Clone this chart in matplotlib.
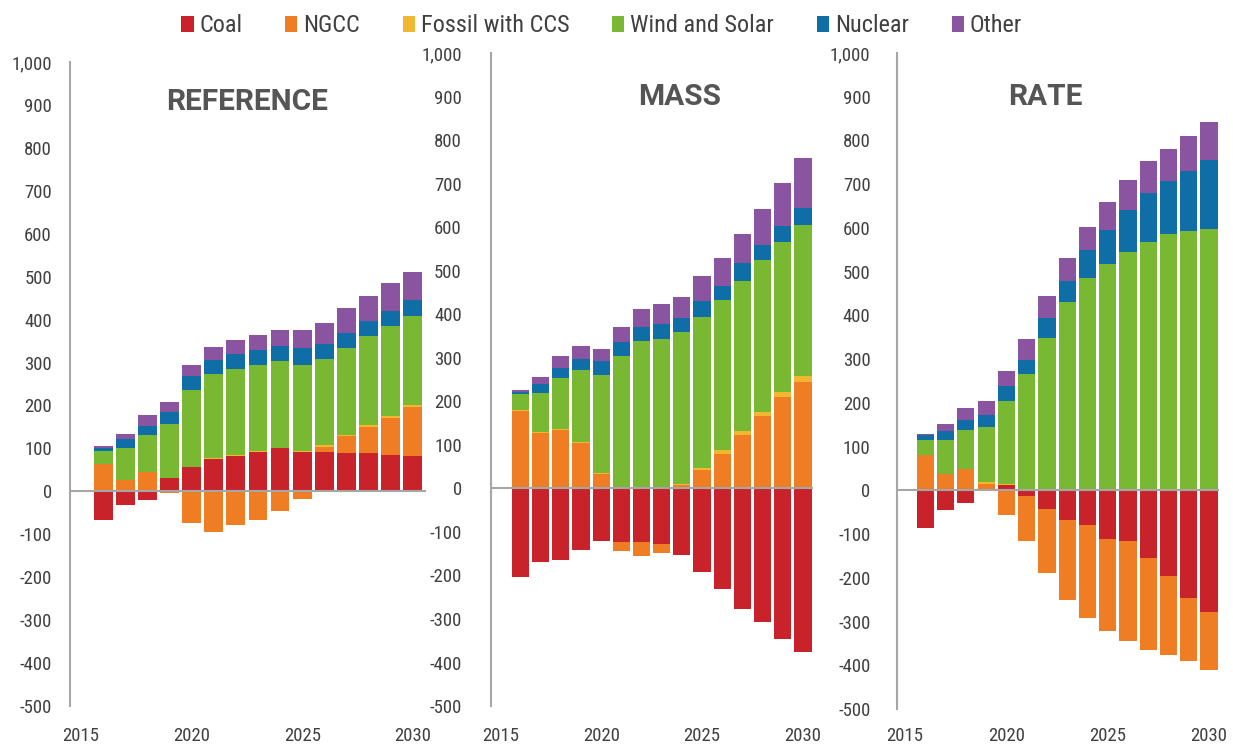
import numpy as np
import matplotlib.pyplot as plt

years = np.arange(2016, 2031)
series = ["Coal", "NGCC", "Fossil with CCS", "Wind and Solar", "Nuclear", "Other"]
colors = ["#C8232A", "#EE7D23", "#F2B731", "#78B833", "#0F6EA5", "#8A54A0"]

# REFERENCE scenario
ref_coal = [-67, -32, -21, 30, 56, 75, 82, 92, 100, 91, 92, 89, 89, 85, 83]
ref_ngcc = [63, 26, 45, -3, -73, -94, -78, -67, -46, -18, 12, 40, 62, 87, 113]
ref_ccs = [1, 1, 1, 2, 1, 2, 3, 3, 2, 3, 3, 3, 4, 4, 4]
ref_ws = [31, 74, 85, 125, 180, 197, 201, 200, 202, 201, 201, 202, 206, 209, 209]
ref_nuc = [7, 22, 21, 28, 32, 31, 33, 34, 34, 38, 35, 36, 36, 36, 36]
ref_other = [4, 10, 25, 22, 26, 31, 33, 35, 38, 43, 50, 56, 59, 65, 65]

# MASS scenario
mass_coal = [-204, -169, -165, -141, -120, -123, -123, -127, -154, -192, -231, -276, -308, -345, -377]
mass_ngcc = [178, 127, 134, 104, 33, -22, -33, -21, 8, 43, 79, 122, 166, 211, 244]
mass_ccs = [2, 2, 2, 2, 3, 3, 3, 2, 3, 4, 8, 10, 10, 10, 13]
mass_ws = [36, 90, 117, 165, 225, 300, 336, 342, 349, 347, 345, 345, 349, 346, 348]
mass_nuc = [6, 20, 24, 26, 31, 33, 32, 33, 32, 36, 34, 40, 34, 35, 39]
mass_other = [4, 17, 28, 30, 29, 35, 41, 47, 48, 57, 63, 67, 82, 100, 114]

# RATE scenario
rate_coal = [-87, -45, -30, 0, 12, -13, -42, -67, -80, -111, -116, -154, -196, -246, -278]
rate_ngcc = [81, 37, 48, 15, -57, -102, -147, -184, -212, -211, -228, -210, -180, -145, -133]
rate_ccs = [1, 1, 1, 4, 2, 2, 2, 2, 2, 2, 2, 2, 2, 2, 2]
rate_ws = [34, 77, 88, 126, 191, 265, 347, 429, 484, 516, 542, 567, 585, 590, 596]
rate_nuc = [10, 20, 24, 27, 33, 32, 44, 47, 63, 77, 98, 111, 120, 138, 158]
rate_other = [3, 16, 28, 32, 35, 46, 51, 54, 54, 64, 67, 73, 74, 81, 86]

panels = [
    ("REFERENCE", [ref_coal, ref_ngcc, ref_ccs, ref_ws, ref_nuc, ref_other]),
    ("MASS", [mass_coal, mass_ngcc, mass_ccs, mass_ws, mass_nuc, mass_other]),
    ("RATE", [rate_coal, rate_ngcc, rate_ccs, rate_ws, rate_nuc, rate_other]),
]

# axes boxes in figure fractions: left, bottom, width, height
boxes = [
    [0.0568, 0.0561, 0.2887, 0.861],
    [0.3982, 0.0561, 0.2612, 0.873],
    [0.7275, 0.0521, 0.2612, 0.877],
]
title_pos = [(0.497, 0.938), (0.587, 0.933), (0.46, 0.933)]
ylab_pad = [13, 21, 19]
xpad = [15, 15, 13]
xlims = [(2014.5, 2030.6), (2014.54, 2030.5), (2014.6, 2030.5)]

plt.rcParams["font.family"] = ["Roboto Condensed", "DejaVu Sans"]
plt.rcParams["font.stretch"] = "condensed"
gray = "#A6A6A6"
txt = "#404040"

fig = plt.figure(figsize=(12.33, 7.48), dpi=100)

for i, (name, data) in enumerate(panels):
    ax = fig.add_axes(boxes[i])
    pos = np.zeros(len(years))
    neg = np.zeros(len(years))
    for vals, lab, c in zip(data, series, colors):
        v = np.array(vals, dtype=float)
        bottom = np.where(v >= 0, pos, neg)
        ax.bar(years, v, bottom=bottom, width=0.85, color=c, label=lab, linewidth=0)
        pos = pos + np.where(v >= 0, v, 0)
        neg = neg + np.where(v < 0, v, 0)

    ax.axhline(0, color=gray, lw=1.5, zorder=3)
    ax.set_xlim(*xlims[i])
    ax.set_ylim(-500, 1000)
    ax.set_yticks(np.arange(-500, 1001, 100))
    ax.set_yticklabels([f"{t:,}" for t in range(-500, 1001, 100)])
    ax.set_xticks([2015, 2020, 2025, 2030])
    ax.tick_params(axis="y", length=0, pad=ylab_pad[i], labelsize=13.5, labelcolor=txt)
    ax.tick_params(axis="x", length=0, pad=xpad[i], labelsize=13.5, labelcolor=txt)
    for s in ["top", "right", "bottom"]:
        ax.spines[s].set_visible(False)
    ax.spines["left"].set_color(gray)
    ax.spines["left"].set_linewidth(1.5)
    ax.text(title_pos[i][0], title_pos[i][1], name, transform=ax.transAxes,
            ha="center", va="center", fontsize=21.5, fontweight="bold", color="#555555",
            family=["Roboto", "DejaVu Sans"], fontstretch="normal")
    if i == 0:
        handles, labels = ax.get_legend_handles_labels()

fig.legend(handles, labels, loc="upper center", bbox_to_anchor=(0.488, 1.01), ncol=6,
           frameon=False, fontsize=17.5, handlelength=0.5, handleheight=0.6,
           handletextpad=0.25, columnspacing=1.75, labelcolor=txt)

fig.savefig("out.png", dpi=100)
